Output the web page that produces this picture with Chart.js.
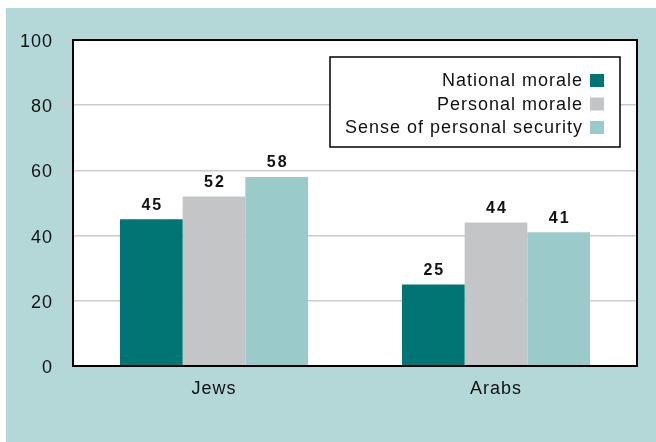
<!DOCTYPE html>
<html>
<head>
<meta charset="utf-8">
<script src="https://cdn.jsdelivr.net/npm/chart.js@4/dist/chart.umd.min.js"></script>
<style>
  html, body { margin: 0; padding: 0; background: #ffffff; }
  #wrap { width: 656px; height: 442px; }
</style>
</head>
<body>
<div id="wrap"><canvas id="moraleChart" width="656" height="442"></canvas></div>
<script>
// Data
const groups = ["Jews", "Arabs"];
const nationalMorale = [45, 25];
const personalMorale = [52, 44];
const personalSecurity = [58, 41];
const seriesNames = ["National morale", "Personal morale", "Sense of personal security"];
const seriesColors = ["#007574", "#c4c5c7", "#9bcaca"];

const FONT = "'Liberation Sans', Arial, Helvetica, sans-serif";

// background, white plot area and frame
const framePlugin = {
  id: "frame",
  beforeDraw(chart) {
    const ctx = chart.ctx;
    const a = chart.chartArea;
    ctx.save();
    ctx.fillStyle = "#b4d8d8";
    ctx.fillRect(6, 8, chart.width - 6, chart.height - 8);
    ctx.fillStyle = "#ffffff";
    ctx.fillRect(a.left, a.top, a.right - a.left, a.bottom - a.top);
    ctx.restore();
    // the axis labels are set a little wider
    ctx.letterSpacing = "1px";
  },
  afterDatasetsDraw(chart) {
    const ctx = chart.ctx;
    const a = chart.chartArea;
    ctx.save();
    ctx.strokeStyle = "#000000";
    ctx.lineWidth = 2;
    ctx.strokeRect(a.left, a.top, a.right - a.left, a.bottom - a.top);

    // value labels above the bars
    ctx.fillStyle = "#111111";
    ctx.font = "bold 16px " + FONT;
    ctx.letterSpacing = "2px";
    ctx.textAlign = "center";
    ctx.textBaseline = "bottom";
    chart.data.datasets.forEach((ds, i) => {
      chart.getDatasetMeta(i).data.forEach((bar, j) => {
        ctx.fillText(String(ds.data[j]), bar.x + 1, bar.y - 6);
      });
    });
    ctx.restore();
  },
  afterDraw(chart) {
    // legend box, text right-aligned with the swatch on the right
    const ctx = chart.ctx;
    const box = { x: 330, y: 57, w: 290, h: 90 };
    ctx.save();
    ctx.fillStyle = "#ffffff";
    ctx.fillRect(box.x, box.y, box.w, box.h);
    ctx.strokeStyle = "#000000";
    ctx.lineWidth = 1.5;
    ctx.strokeRect(box.x, box.y, box.w, box.h);
    ctx.font = "18px " + FONT;
    ctx.letterSpacing = "1px";
    ctx.textAlign = "right";
    ctx.textBaseline = "middle";
    seriesNames.forEach((name, i) => {
      const cy = 80.5 + i * 23.5;
      ctx.fillStyle = "#111111";
      ctx.fillText(name, 583, cy + 1);
      ctx.fillStyle = seriesColors[i];
      ctx.fillRect(590, cy - 6.5, 14, 13);
    });
    ctx.restore();
  }
};

new Chart(document.getElementById("moraleChart").getContext("2d"), {
  type: "bar",
  data: {
    labels: groups,
    datasets: [
      { label: seriesNames[0], data: nationalMorale, backgroundColor: seriesColors[0] },
      { label: seriesNames[1], data: personalMorale, backgroundColor: seriesColors[1] },
      { label: seriesNames[2], data: personalSecurity, backgroundColor: seriesColors[2] }
    ]
  },
  options: {
    responsive: false,
    animation: false,
    layout: { padding: { left: 0, right: 19, top: 40, bottom: 0 } },
    datasets: {
      bar: { categoryPercentage: 0.667, barPercentage: 1, borderWidth: 0 }
    },
    plugins: {
      legend: { display: false },
      tooltip: { enabled: false }
    },
    scales: {
      x: {
        grid: { display: false, drawTicks: false },
        border: { display: false },
        ticks: { color: "#111111", font: { family: FONT, size: 18 }, padding: 12 },
        afterFit(scale) { scale.height = 76; }
      },
      y: {
        min: 0,
        max: 100,
        grid: { color: "#cccccc", lineWidth: 1.5, tickLength: 11, tickColor: "#cccccc" },
        border: { display: false },
        ticks: { stepSize: 20, color: "#111111", font: { family: FONT, size: 18 }, padding: 9, labelOffset: 2 },
        afterFit(scale) { scale.width = 73; }
      }
    }
  },
  plugins: [framePlugin]
});
</script>
</body>
</html>
